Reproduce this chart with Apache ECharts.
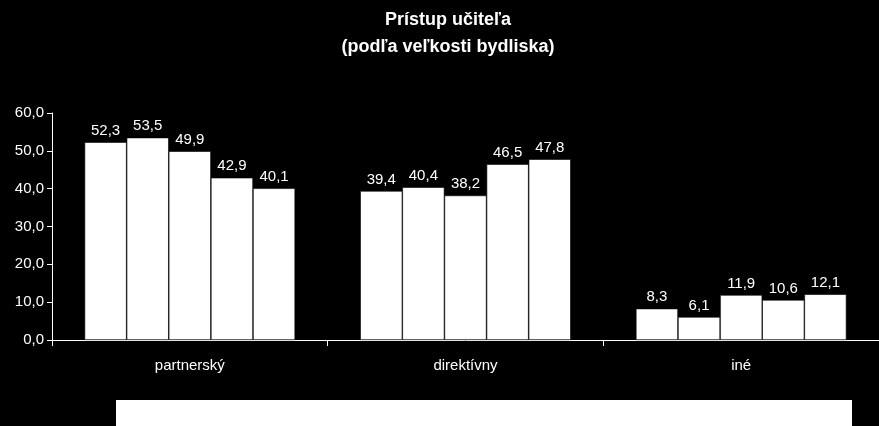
<!DOCTYPE html>
<html style="height: 100%">
<head>
<meta charset="utf-8">
<script src="https://cdn.jsdelivr.net/npm/echarts@6/dist/echarts.min.js"></script>
<style>html{background:#000;}</style>
</head>
<body style="height: 100%; margin: 0">
<div id="container" style="width:879px;height:426px"></div>
<script>
var categories = ['partnerský', 'direktívny', 'iné'];
var s1 = [52.3, 39.4, 8.3];
var s2 = [53.5, 40.4, 6.1];
var s3 = [49.9, 38.2, 11.9];
var s4 = [42.9, 46.5, 10.6];
var s5 = [40.1, 47.8, 12.1];
var seriesData = [s1, s2, s3, s4, s5];

var font = 'Liberation Sans, Arial, sans-serif';
var chart = echarts.init(document.getElementById('container'));
chart.setOption({
  backgroundColor: '#000',
  animation: false,
  title: {
    text: 'Prístup učiteľa\n(podľa veľkosti bydliska)',
    left: 443, textAlign: 'center', top: 2,
    textStyle: { color: '#fff', fontFamily: font, fontSize: 18, fontWeight: 'bold', lineHeight: 27 }
  },
  grid: { left: 52, right: -28, top: 113, bottom: 86 },
  xAxis: {
    type: 'category', data: categories,
    axisLine: { lineStyle: { color: '#fff' } },
    axisTick: { show: true, length: 6, lineStyle: { color: '#fff' } },
    axisLabel: { color: '#fff', fontFamily: font, fontSize: 15, margin: 18 }
  },
  yAxis: {
    type: 'value', min: 0, max: 60, interval: 10,
    axisLine: { show: true, lineStyle: { color: '#fff' } },
    axisTick: { show: true, length: 5, lineStyle: { color: '#fff' } },
    splitLine: { show: false },
    axisLabel: { color: '#fff', fontFamily: font, fontSize: 15, formatter: function (v) { return v.toFixed(1).replace('.', ','); } }
  },
  graphic: [{ type: 'rect', shape: { x: 116, y: 400, width: 736, height: 30 }, style: { fill: '#fff' } }],
  series: seriesData.map(function (d) {
    return {
      type: 'bar', data: d, barGap: '0%', barCategoryGap: '23.6%',
      itemStyle: { color: '#fff', borderColor: '#000', borderWidth: 0.6 },
      label: { show: true, position: 'top', distance: 4, color: '#fff', fontFamily: font, fontSize: 15,
        formatter: function (p) { return p.value.toFixed(1).replace('.', ','); } }
    };
  })
});
</script>
</body>
</html>
